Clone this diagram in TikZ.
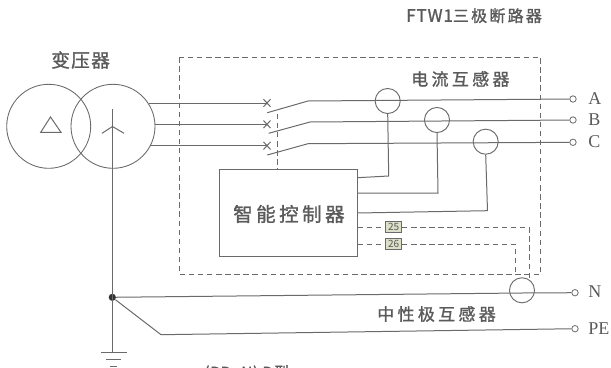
\documentclass[tikz,border=0pt]{standalone}
\usepackage{fontspec}
\setmainfont{Liberation Serif}
\newfontfamily\cjk[FakeBold=1.4]{Noto Sans CJK SC}
\definecolor{ln}{HTML}{6A6A6A}
\definecolor{tx}{HTML}{5A5A5A}
\definecolor{tagf}{HTML}{DDE0C8}
\tikzset{
  x=0.75pt,y=-0.75pt,
  wire/.style={draw=ln,line width=0.75pt},
  dash line/.style={draw=ln,line width=0.75pt,dash pattern=on 4pt off 2.8pt},
  ring/.style={circle,draw=ln,line width=0.7pt,minimum size=18.8pt,inner sep=0pt},
  term/.style={circle,draw=ln,line width=0.6pt,minimum size=4.8pt,inner sep=0pt},
  cn/.style={text=tx,inner sep=0pt,anchor=west},
  ph/.style={font=\fontsize{13.5pt}{14pt}\selectfont,text=tx,inner sep=0pt,anchor=west},
  tag/.style={draw=ln,fill=tagf,line width=0.6pt,font=\fontspec{Noto Sans CJK SC}\fontsize{7.5pt}{8pt}\selectfont,text=tx,minimum width=12pt,minimum height=8.3pt,inner sep=0pt},
}
\begin{document}
\begin{tikzpicture}
\useasboundingbox (0,0) rectangle (611,368);
% transformer
\node[circle,draw=ln,line width=0.65pt,minimum size=63pt,inner sep=0pt] (tl) at (48.7,126.3) {};
\node[circle,draw=ln,line width=0.65pt,minimum size=63pt,inner sep=0pt] (tr) at (113,126.3) {};
\coordinate (d1) at (50.5,117); \coordinate (d2) at (40.7,132.3); \coordinate (d3) at (61,132.3);
\draw[wire] (d1) -- (d2) -- (d3) -- cycle;
\coordinate (y0) at (112.5,126.5); \coordinate (y1) at (102,133.3); \coordinate (y2) at (124,133.3);
\draw[wire] (y1) -- (y0) -- (y2);
\node[cn,font=\cjk\fontsize{14pt}{16pt}\selectfont\addfontfeature{LetterSpace=7}] (tt) at (51,60) {变压器};
\node[cn,font=\cjk\fontsize{12.8pt}{14pt}\selectfont] (title) at (406,15.7) {{\addfontfeature{LetterSpace=5}FTW1}{\fontsize{12pt}{14pt}\selectfont\addfontfeature{LetterSpace=14}三极断路器}};
% dashed box
\coordinate (b1) at (179,57.3); \coordinate (b2) at (540.7,57.3); \coordinate (b3) at (540.7,274); \coordinate (b4) at (179,274);
\draw[dash line] (b1) -- (b2) -- (b3) -- (b4) -- cycle;
% breaker nodes
\coordinate (xa) at (267,103); \coordinate (xb) at (267,124.3); \coordinate (xc) at (267,145.7);
\foreach \p in {xa,xb,xc}{
  \draw[wire] ([shift={(-3.5,-3.8)}]\p) -- ([shift={(3.5,3.8)}]\p);
  \draw[wire] ([shift={(-3.5,3.8)}]\p) -- ([shift={(3.5,-3.8)}]\p);
}
% terminals
\node[term] (ta) at (573,99) {}; \node[term] (tb) at (573,120) {}; \node[term] (tc) at (573,142.3) {};
\node[term] (tn) at (575,292.7) {}; \node[term] (tp) at (575,328.7) {};
\node[ph] at (588,98.5) {A}; \node[ph] at (588,120) {B}; \node[ph] at (588,142) {C};
\node[ph] at (588,292) {N}; \node[ph] at (588,328.5) {PE};
% phases
\coordinate (a0) at (149,103); \coordinate (b0) at (155,124.3); \coordinate (c0) at (150,145.7);
\draw[wire] (a0) -- (xa); \draw[wire] (b0) -- (xb); \draw[wire] (c0) -- (xc);
\coordinate (sa1) at (267.3,112.7); \coordinate (sa2) at (308,101);
\coordinate (sb1) at (268.7,133.3); \coordinate (sb2) at (310,122);
\coordinate (sc1) at (267.3,155); \coordinate (sc2) at (308,143.7);
\draw[wire] (sa1) -- (sa2) -- (ta);
\draw[wire] (sb1) -- (sb2) -- (tb);
\draw[wire] (sc1) -- (sc2) -- (tc);
\coordinate (lk1) at (277.5,114); \coordinate (lk2) at (277.5,170);
\draw[dash line] (lk1) -- (lk2);
% CT
\node[ring] (ca) at (387.7,101) {};
\node[ring] (cb) at (437,120) {};
\node[ring] (cc) at (485.7,141.7) {};
% controller
\node[draw=ln,line width=0.85pt,minimum width=103.7pt,minimum height=65pt,inner sep=0pt] (ctrl) at (288.2,213) {};
\node[cn,font=\cjk\fontsize{14.6pt}{16pt}\selectfont\addfontfeature{LetterSpace=18}] (ctrlt) at (233,214) {智能控制器};
\coordinate (k1) at (357.3,177.7); \coordinate (k1t) at (388.7,176);
\draw[wire] (k1) -- (k1t) -- (ca.south);
\coordinate (k2) at (357.3,193); \coordinate (k2t) at (438,193);
\draw[wire] (k2) -- (k2t) -- (cb.south);
\coordinate (k3) at (357.3,213); \coordinate (k3t) at (487.5,210.7);
\draw[wire] (k3) -- (k3t) -- (cc.south);
\node[cn,font=\cjk\fontsize{12.7pt}{14pt}\selectfont\addfontfeature{LetterSpace=20}] (ctl) at (411,79) {电流互感器};
% N-line
\node[circle,fill=black!80,minimum size=5.4pt,inner sep=0pt] (jn) at (112.3,297.3) {};
\node[ring] (cn1) at (522,290.3) {};
\coordinate (nm) at (522,293);
\draw[wire] (jn) -- (nm) -- (tn);
\coordinate (pe0) at (161,334.7);
\draw[wire] (jn) -- (pe0) -- (tp);
\coordinate (ytop) at (112.3,109); \coordinate (gnd) at (112.3,352.3);
\draw[wire] (ytop) -- (gnd);
\coordinate (g1a) at (101,352.3); \coordinate (g1b) at (126.7,352.3);
\coordinate (g2a) at (106,359.7); \coordinate (g2b) at (121,359.7);
\coordinate (g3a) at (110,366.5); \coordinate (g3b) at (117,366.5);
\draw[wire] (g1a) -- (g1b); \draw[wire] (g2a) -- (g2b); \draw[wire] (g3a) -- (g3b);
% sensor wires
\node[tag] (t25) at (393.7,227.2) {25};
\node[tag] (t26) at (393.7,244.2) {26};
\coordinate (q1) at (529,227.2); \coordinate (q1b) at (529,279);
\coordinate (q2) at (515.3,244.2); \coordinate (q2b) at (515.3,275);
\draw[dash line] (ctrl.east |- t25) -- (t25);
\draw[dash line] (t25) -- (q1) -- (q1b);
\draw[dash line] (ctrl.east |- t26) -- (t26);
\draw[dash line] (t26) -- (q2) -- (q2b);
\node[cn,font=\cjk\fontsize{12.7pt}{14pt}\selectfont\addfontfeature{LetterSpace=20}] (nl) at (377,314) {中性极互感器};
\node[cn,anchor=base west,font=\cjk\fontsize{11.5pt}{13pt}\selectfont\addfontfeature{LetterSpace=5}] (bot) at (204,378) {(PD+N) D型};
\end{tikzpicture}
\end{document}
